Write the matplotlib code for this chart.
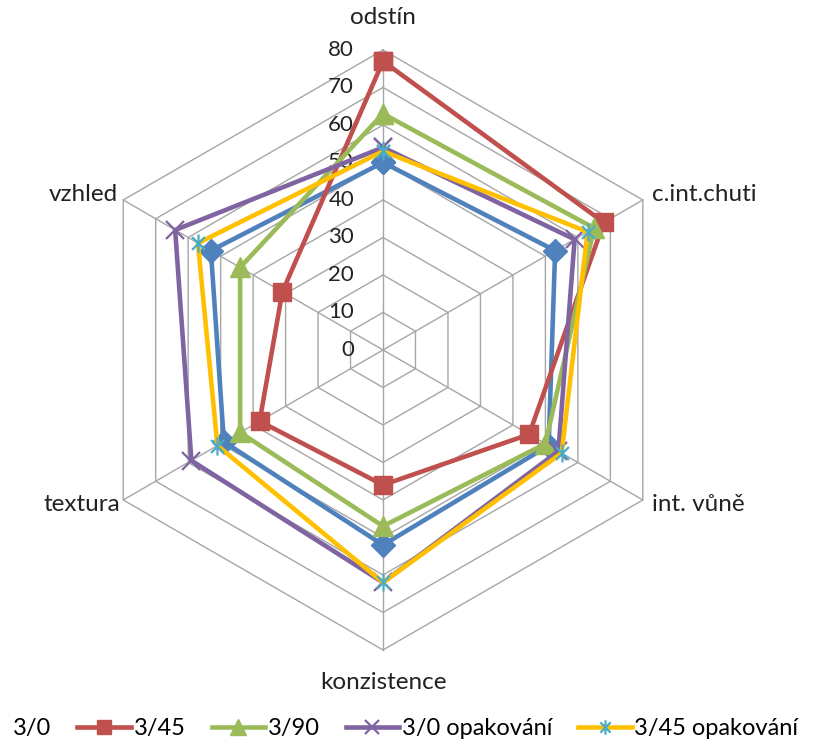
import numpy as np
import matplotlib.pyplot as plt
from matplotlib.path import Path
from matplotlib.transforms import Bbox

plt.rcParams["font.family"] = ["Lato", "DejaVu Sans"]

# Data.
categories = ["odstín", "c.int.chuti", "int. vůně", "konzistence", "textura", "vzhled"]
series_names = ["3/0", "3/45", "3/90", "3/0 opakování", "3/45 opakování"]
s_3_0 = [50, 53, 51, 52, 49, 53]
s_3_45 = [77, 68, 45, 36, 38, 31]
s_3_90 = [63, 65, 50, 47, 44, 44]
s_3_0_opak = [54, 59, 54, 62, 59, 64]
s_3_45_opak = [53, 63, 55, 62, 51, 57]
rings = [0, 10, 20, 30, 40, 50, 60, 70, 80]

# Excel style "star" marker: an x with a vertical bar.
star = Path(
    [(-1, -1), (1, 1), (-1, 1), (1, -1), (0, -1.4), (0, 1.4)],
    [Path.MOVETO, Path.LINETO] * 3,
)

styles = [
    dict(color="#4F81BD", marker="D", ms=12, mfc="#4F81BD", mec="#4F81BD"),
    dict(color="#C0504D", marker="s", ms=13, mfc="#C0504D", mec="#C0504D"),
    dict(color="#9BBB59", marker="^", ms=14, mfc="#9BBB59", mec="#9BBB59"),
    dict(color="#8064A2", marker="x", ms=13, mec="#8064A2", mew=1.6),
    dict(color="#FFC000", marker=star, ms=13, mfc="none", mec="#4BACC6", mew=1.6),
]
all_series = [s_3_0, s_3_45, s_3_90, s_3_0_opak, s_3_45_opak]

n = len(categories)
angles = np.arange(n) * 2 * np.pi / n
closed = np.append(angles, angles[0])

fig = plt.figure(figsize=(8.26, 7.47), dpi=100)
ax = fig.add_axes([0.1005, 0.1299, 0.7264, 0.8032], projection="polar")
ax.set_theta_offset(np.pi / 2)
ax.set_theta_direction(-1)
ax.set_ylim(0, 80)
ax.grid(False)
ax.spines["polar"].set_visible(False)
ax.set_xticks([])
ax.set_yticks([])
ax.patch.set_visible(False)

grid_color = "#A6A6A6"
for r in rings[1:]:
    ax.plot(closed, [r] * (n + 1), color=grid_color, lw=1.0, zorder=1, clip_on=False)
for a in angles:
    ax.plot([a, a], [0, 80], color=grid_color, lw=1.0, zorder=1, clip_on=False)

# Radial value labels.
for r in rings:
    ax.annotate(str(r), xy=(0, r), xytext=(-29, 0), textcoords="offset pixels",
                ha="right", va="center", fontsize=16, color="#222222", zorder=2)

# Category labels.
offsets = [(0, 32, "center"), (9, 5, "left"), (9, -5, "left"),
           (0, -33, "center"), (-3, -5, "right"), (-5, 5, "right")]
for a, name, (dx, dy, ha) in zip(angles, categories, offsets):
    ax.annotate(name, xy=(a, 80), xytext=(dx, dy), textcoords="offset pixels",
                ha=ha, va="center", fontsize=17.5, color="#222222", annotation_clip=False)

for vals, name, st in zip(all_series, series_names, styles):
    ax.plot(closed, vals + vals[:1], lw=3.3, label=name, zorder=3, clip_on=False,
            solid_joinstyle="miter", **st)

handles, labels = ax.get_legend_handles_labels()
leg = fig.legend(handles, labels, loc="center left", bbox_to_anchor=(-0.052, 0.025),
                 ncol=5, frameon=False, fontsize=17, handlelength=2.26,
                 handletextpad=0.12, columnspacing=1.1, borderpad=0, borderaxespad=0,
                 numpoints=1, markerscale=0.8)

# The first legend key is cut off by the left edge in the reference.
leg.legend_handles[0].set_clip_box(Bbox.from_extents(13, 0, 826, 747))
leg.legend_handles[0].set_clip_on(True)

fig.savefig("out.png", dpi=100)
